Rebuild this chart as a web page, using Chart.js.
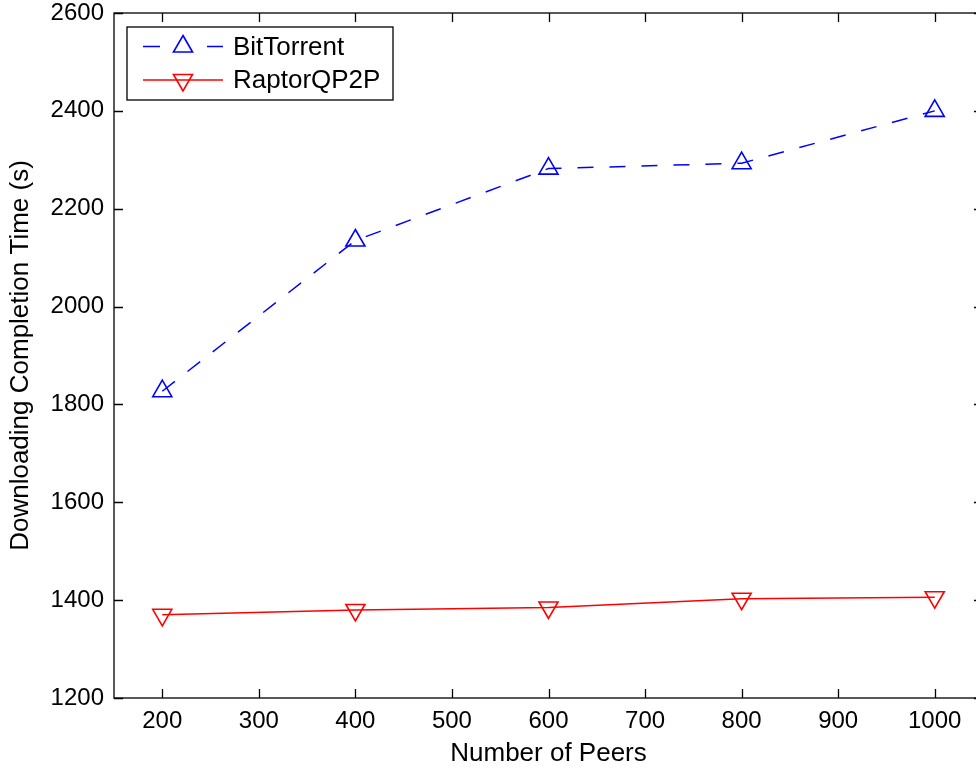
<!DOCTYPE html>
<html>
<head>
<meta charset="utf-8">
<script src="https://cdn.jsdelivr.net/npm/chart.js@4"></script>
<style>
  html, body { margin: 0; padding: 0; background: #fff; overflow: hidden; }
  #wrap { width: 1000px; height: 769px; }
</style>
</head>
<body>
<div id="wrap"><canvas id="grafica" width="1000" height="769"></canvas></div>
<script>
// data
const peers = [200, 400, 600, 800, 1000];
const bitTorrent = [1827, 2135, 2282, 2293, 2400];
const raptorQP2P = [1370, 1380, 1385, 1403, 1406];

const xTicks = [200, 300, 400, 500, 600, 700, 800, 900, 1000];
const yTicks = [1200, 1400, 1600, 1800, 2000, 2200, 2400, 2600];

const FONT = '"Liberation Sans", Arial, Helvetica, sans-serif';

function puntos(ys) {
  return peers.map((x, i) => ({ x, y: ys[i] }));
}

// box + inward tick marks on all four sides (MATLAB style)
const marcoPlugin = {
  id: 'marco',
  afterDraw(chart) {
    const { ctx, chartArea: a, scales } = chart;
    const len = 9;
    ctx.save();
    ctx.strokeStyle = '#000';
    ctx.lineWidth = 1.3;
    ctx.beginPath();
    xTicks.forEach(v => {
      const px = Math.round(scales.x.getPixelForValue(v)) + 0.5;
      ctx.moveTo(px, a.bottom); ctx.lineTo(px, a.bottom - len);
      ctx.moveTo(px, a.top); ctx.lineTo(px, a.top + len);
    });
    yTicks.forEach(v => {
      const py = Math.round(scales.y.getPixelForValue(v)) + 0.5;
      ctx.moveTo(a.left, py); ctx.lineTo(a.left + len, py);
      ctx.moveTo(a.right, py); ctx.lineTo(a.right - len, py);
    });
    ctx.stroke();
    ctx.strokeRect(a.left, a.top, a.right - a.left, a.bottom - a.top);
    ctx.restore();
  }
};

// legend box drawn from the datasets' own styles
const leyendaPlugin = {
  id: 'leyenda',
  afterDraw(chart) {
    const { ctx } = chart;
    const box = { x: 127, y: 27, w: 266, h: 73 };
    ctx.save();
    ctx.fillStyle = '#fff';
    ctx.fillRect(box.x, box.y, box.w, box.h);
    ctx.strokeStyle = '#000';
    ctx.lineWidth = 1.3;
    ctx.strokeRect(box.x, box.y, box.w, box.h);
    chart.data.datasets.forEach((ds, i) => {
      const cy = box.y + 19.5 + i * 33.5;
      ctx.strokeStyle = ds.borderColor;
      ctx.lineWidth = ds.borderWidth;
      ctx.beginPath();
      if (ds.borderDash) {
        ctx.moveTo(143, cy); ctx.lineTo(160, cy);
        ctx.moveTo(207, cy); ctx.lineTo(223, cy);
      } else {
        ctx.moveTo(143, cy); ctx.lineTo(223, cy);
      }
      ctx.stroke();
      ctx.fillStyle = 'rgba(0,0,0,0)';
      ctx.lineWidth = ds.pointBorderWidth;
      Chart.helpers.drawPoint(ctx, {
        pointStyle: ds.pointStyle,
        rotation: ds.pointRotation || 0,
        radius: ds.pointRadius,
        borderWidth: ds.pointBorderWidth
      }, 183, cy);
      ctx.fillStyle = '#000';
      ctx.font = '26px ' + FONT;
      ctx.textBaseline = 'middle';
      ctx.fillText(ds.label, 233, cy + 1);
    });
    ctx.restore();
  }
};

const sinComas = (v) => String(v);

new Chart(document.getElementById('grafica'), {
  type: 'line',
  data: {
    datasets: [
      {
        label: 'BitTorrent',
        data: puntos(bitTorrent),
        borderColor: '#0000ff',
        backgroundColor: 'rgba(0,0,0,0)',
        borderWidth: 1.5,
        borderDash: [16, 16],
        pointStyle: 'triangle',
        pointRadius: 11,
        pointBorderWidth: 1.6,
        pointBorderColor: '#0000ff',
        pointBackgroundColor: 'rgba(0,0,0,0)'
      },
      {
        label: 'RaptorQP2P',
        data: puntos(raptorQP2P),
        borderColor: '#ff0000',
        backgroundColor: 'rgba(0,0,0,0)',
        borderWidth: 1.5,
        pointStyle: 'triangle',
        pointRotation: 180,
        pointRadius: 11,
        pointBorderWidth: 1.6,
        pointBorderColor: '#ff0000',
        pointBackgroundColor: 'rgba(0,0,0,0)'
      }
    ]
  },
  options: {
    responsive: false,
    animation: false,
    layout: { padding: { top: 13, right: 17, left: 0, bottom: 0 } },
    plugins: {
      legend: { display: false },
      tooltip: { enabled: false }
    },
    scales: {
      x: {
        type: 'linear',
        min: 150,
        max: 1050,
        afterBuildTicks: (axis) => { axis.ticks = xTicks.map(v => ({ value: v })); },
        afterFit: (axis) => {
          axis.height = 71;
          axis.paddingLeft = 0; axis.paddingRight = 0;
        },
        grid: { display: false, drawTicks: false },
        border: { display: false },
        ticks: { color: '#000', font: { family: FONT, size: 24 }, padding: 9, maxRotation: 0, callback: sinComas },
        title: {
          display: true,
          text: 'Number of Peers',
          color: '#000',
          font: { family: FONT, size: 26 },
          padding: { top: 0, bottom: 0 }
        }
      },
      y: {
        min: 1200,
        max: 2600,
        afterBuildTicks: (axis) => { axis.ticks = yTicks.map(v => ({ value: v })); },
        afterFit: (axis) => {
          axis.width = 114;
          axis.paddingTop = 0; axis.paddingBottom = 0;
        },
        grid: { display: false, drawTicks: false },
        border: { display: false },
        ticks: { color: '#000', font: { family: FONT, size: 24 }, padding: 10, callback: sinComas },
        title: {
          display: true,
          text: 'Downloading Completion Time (s)',
          color: '#000',
          font: { family: FONT, size: 26 },
          padding: { top: 5, bottom: 0 }
        }
      }
    }
  },
  plugins: [marcoPlugin, leyendaPlugin]
});
</script>
</body>
</html>
